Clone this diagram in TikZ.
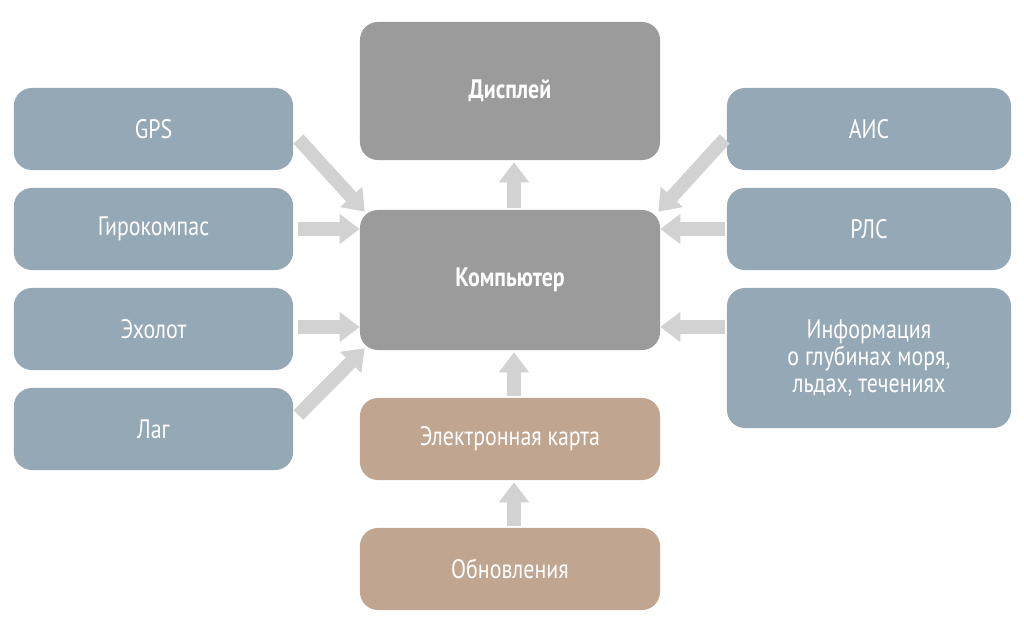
\documentclass[tikz,border=0pt]{standalone}
\usepackage{fontspec}
\setmainfont[FakeStretch=0.82]{PT Sans}
\usetikzlibrary{arrows.meta,calc}
\definecolor{sensor}{HTML}{95A8B6}
\definecolor{core}{HTML}{9B9B9B}
\definecolor{chart}{HTML}{C0A690}
\definecolor{flow}{HTML}{D2D2D2}
\begin{document}
\begin{tikzpicture}[
  x=0.025cm,y=-0.025cm,
  box/.style={rectangle,rounded corners=0.45cm,draw=none,text=white,
    minimum width=6.98cm,minimum height=2.05cm,font=\fontsize{19}{22}\selectfont,align=center},
  mid/.style={box,minimum width=7.5cm},
  fat/.style={draw=flow,line width=0.34cm,-{Triangle[width=0.72cm,length=0.5cm]}}
]
\useasboundingbox (0,0) rectangle (1024,638);

% left side
\node[box,fill=sensor] (gps) at (153.5,129) {GPS};
\node[box,fill=sensor] (gyro) at (153.5,229) {Гирокомпас};
\node[box,fill=sensor] (echo) at (153.5,329) {Эхолот};
\node[box,fill=sensor] (log) at (153.5,429) {Лаг};

% centre
\node[mid,fill=core,minimum height=3.45cm,font=\fontsize{19}{22}\selectfont\bfseries] (disp) at (510,91) {Дисплей};
\node[mid,fill=core,minimum height=3.5cm,font=\fontsize{19}{22}\selectfont\bfseries] (comp) at (510,280) {Компьютер};
\node[mid,fill=chart] (chart) at (510,439) {Электронная карта};
\node[mid,fill=chart] (upd) at (510,569) {Обновления};

% right side
\node[box,fill=sensor,minimum width=7.1cm] (ais) at (869,129) {АИС};
\node[box,fill=sensor,minimum width=7.1cm] (radar) at (869,229) {РЛС};
\node[box,fill=sensor,minimum width=7.1cm,minimum height=3.5cm] (info) at (869,358)
  {Информация\\[-3pt]о глубинах моря,\\[-3pt]льдах, течениях};

% arrows
\draw[fat] ($(gps.east)+(5,10)$) -- ($(comp.north west)+(5,2)$);
\draw[fat] ($(gyro.east)+(5,0)$) -- (gyro.east -| comp.west);
\draw[fat] ($(echo.east)+(5,-2)$) -- ($(comp.west)+(0,47)$);
\draw[fat] ($(log.east)+(5,-14)$) -- ($(comp.south west)+(5,-2)$);
\draw[fat] ($(ais.west)+(-2,10)$) -- ($(comp.north east)+(-2,2)$);
\draw[fat] ($(radar.west)+(-2,0)$) -- (radar.west -| comp.east);
\draw[fat] ($(info.west)+(-2,-31)$) -- ($(comp.east)+(0,47)$);
\draw[fat] ($(comp.north)+(4,-2)$) -- ($(disp.south)+(4,2)$);
\draw[fat] ($(chart.north)+(4,-2)$) -- ($(comp.south)+(4,2)$);
\draw[fat] ($(upd.north)+(4,-2)$) -- ($(chart.south)+(4,2)$);
\end{tikzpicture}
\end{document}
